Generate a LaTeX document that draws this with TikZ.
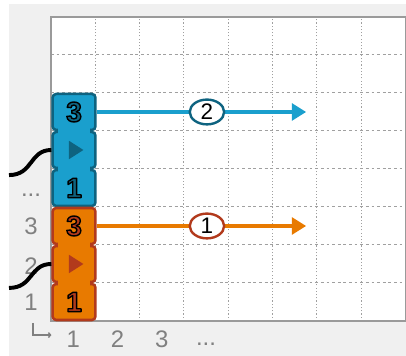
\documentclass[tikz,border=0pt]{standalone}
\usepackage{fontspec}
\setmainfont{Liberation Sans}
\usetikzlibrary{arrows.meta,positioning,shapes.geometric}
\definecolor{BlockBlue}{HTML}{1A9FCD}
\definecolor{BlockBlueDark}{HTML}{0E6380}
\definecolor{BlockOrange}{HTML}{E87A00}
\definecolor{BlockOrangeDark}{HTML}{B23A1C}
\definecolor{PanelGray}{HTML}{F0F0F0}
\definecolor{GridGray}{HTML}{A0A0A0}
\definecolor{FrameGray}{HTML}{9A9A9A}
\definecolor{LabelGray}{HTML}{808080}
% outlined digit: fill in #1, black stroke
\newcommand{\slotdigit}[2]{\textcolor{#1}{\special{pdf:literal direct 0 0 0 RG 1 w 1 j 2 Tr}#2\special{pdf:literal direct 0 Tr}}}

\begin{document}
\begin{tikzpicture}[x=1.1075cm,y=0.95cm,
    cell/.style={draw=#1,line width=1.8pt,rounded corners=2.5pt,
      minimum width=1.07cm,minimum height=0.9cm,inner sep=0pt,
      font=\fontsize{20}{22}\selectfont\bfseries},
    play/.style={isosceles triangle,isosceles triangle stretches,fill=#1,
      minimum height=0.36cm,minimum width=0.46cm,inner sep=0pt},
    flow/.style={-{Triangle[length=0.36cm,width=0.42cm]},line width=3pt,draw=#1},
    tag/.style={ellipse,draw=#1,line width=1.7pt,fill=white,
      minimum width=0.86cm,minimum height=0.62cm,inner sep=0pt,
      font=\fontsize{16}{18}\selectfont},
    wire/.style={line width=2.8pt,black},
    axislabel/.style={text=LabelGray,font=\fontsize{17}{20}\selectfont}
  ]
    \useasboundingbox (-1.1512,-0.921) rectangle (8.0135,8.447);
    \fill[PanelGray] (-0.948,-0.921) rectangle (8.0135,8.342);
    \fill[white] (0,0) rectangle (8,8);
    % grid
    \foreach \i in {1,...,7} {
      \draw[GridGray,line width=0.7pt,dash pattern=on 2pt off 2pt] (0,\i) -- (8,\i);
      \draw[GridGray,line width=0.7pt,dash pattern=on 0.8pt off 1.5pt] (\i,0) -- (\i,8);
    }
    \draw[FrameGray,line width=1.1pt] (0,0) rectangle (8,8);
    % axis labels
    \foreach \n/\y in {1/0.5,2/1.45,3/2.5}
      \node[axislabel] (row\n) at (-0.45,\y) {\n};
    \node[axislabel] (rowdots) at (-0.45,3.3) {...};
    \foreach \n/\x in {1/0.5,2/1.5,3/2.5}
      \node[axislabel] (col\n) at (\x,-0.47) {\n};
    \node[axislabel] (coldots) at (3.5,-0.6) {...};
    \coordinate (cornerTop) at (-0.41,-0.05);
    \coordinate (cornerEnd) at (0.01,-0.37);
    \draw[LabelGray,line width=1pt,-{Straight Barb[length=1.5pt,width=3.5pt]}] (cornerTop) |- (cornerEnd);
    % blue block
    \node[cell=BlockBlueDark,fill=BlockBlue] (b3) at (0.52,5.5) {\slotdigit{BlockBlueDark}{3}};
    \node[cell=BlockBlueDark,fill=BlockBlue] (b2) at (0.52,4.5) {};
    \node[cell=BlockBlueDark,fill=BlockBlue] (b1) at (0.52,3.5) {\slotdigit{BlockBlueDark}{1}};
    \fill[BlockBlue] ([xshift=4.5pt,yshift=2pt]b3.south west) rectangle ([xshift=-4.5pt,yshift=-2pt]b2.north east);
    \fill[BlockBlue] ([xshift=4.5pt,yshift=2pt]b2.south west) rectangle ([xshift=-4.5pt,yshift=-2pt]b1.north east);
    \node[play=BlockBlueDark] (bplay) at (b2.center) {};
    % orange block
    \node[cell=BlockOrangeDark,fill=BlockOrange] (o3) at (0.52,2.5) {\slotdigit{BlockOrangeDark}{3}};
    \node[cell=BlockOrangeDark,fill=BlockOrange] (o2) at (0.52,1.5) {};
    \node[cell=BlockOrangeDark,fill=BlockOrange] (o1) at (0.52,0.5) {\slotdigit{BlockOrangeDark}{1}};
    \fill[BlockOrange] ([xshift=4.5pt,yshift=2pt]o3.south west) rectangle ([xshift=-4.5pt,yshift=-2pt]o2.north east);
    \fill[BlockOrange] ([xshift=4.5pt,yshift=2pt]o2.south west) rectangle ([xshift=-4.5pt,yshift=-2pt]o1.north east);
    \node[play=BlockOrangeDark] (oplay) at (o2.center) {};
    % wires
    \coordinate (bwire) at (-0.948,3.84);
    \coordinate (owire) at (-0.948,0.87);
    \draw[wire] (bwire) .. controls +(0.55,0) and +(-0.5,0) .. (b2.west);
    \draw[wire] (owire) .. controls +(0.55,0) and +(-0.5,0) .. (o2.west);
    % flows
    \coordinate (bend) at (5.76,5.5);
    \coordinate (oend) at (5.76,2.5);
    \draw[flow=BlockBlue] (b3.east) -- (bend);
    \draw[flow=BlockOrange] (o3.east) -- (oend);
    \node[tag=BlockBlueDark] (btag) at (3.52,5.5) {2};
    \node[tag=BlockOrangeDark] (otag) at (3.52,2.5) {1};
\end{tikzpicture}
\end{document}
